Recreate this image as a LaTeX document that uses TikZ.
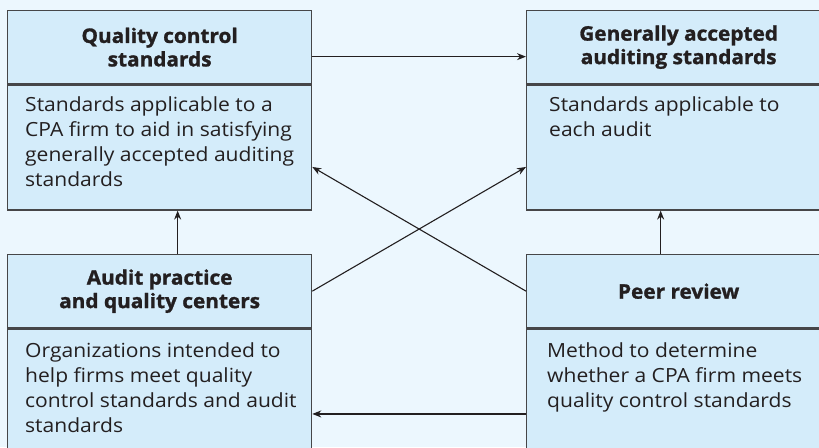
\documentclass[tikz,border=0pt]{standalone}
\usepackage{fontspec}
\setmainfont{Open Sans}[FakeStretch=1.08]
\newfontfamily\hdrfont{Open Sans}[FakeStretch=1.04, BoldFeatures={FakeBold=1.3}]
\usetikzlibrary{arrows.meta,calc}
\definecolor{bg}{RGB}{236,247,254}
\definecolor{boxfill}{RGB}{212,236,250}
\definecolor{edge}{RGB}{70,70,72}
\definecolor{ink}{RGB}{35,31,32}
\begin{document}
\begin{tikzpicture}[x=1pt,y=-1pt,
 hdr/.style={draw=edge, fill=boxfill, line width=1.3pt, minimum width=304pt, minimum height=73pt, anchor=north west, inner sep=0pt, font=\hdrfont\bfseries\fontsize{20}{23.5}\selectfont, text=ink, align=center},
 body/.style={draw=edge, fill=boxfill, line width=1.3pt, minimum width=304pt, minimum height=125pt, anchor=north west, inner sep=0pt},
 bodytext/.style={anchor=north west, font=\fontsize{19.5}{25}\selectfont, text=ink, align=left, inner sep=0pt},
 conn/.style={draw=ink, line width=1.1pt, -{Stealth[length=9pt,width=7pt]}}]
\useasboundingbox (0,0) rectangle (819,447);
\clip (0,0) rectangle (819,447);
\fill[bg] (0,0) rectangle (819,447);
\node[hdr] (qcH) at (7,10) {Quality control\\standards};
\node[body] (qcB) at (qcH.south west) {};
\node[hdr] (gaH) at (526,10) {Generally accepted\\auditing standards};
\node[body] (gaB) at (gaH.south west) {};
\node[hdr] (apH) at (7,254) {Audit practice\\and quality centers};
\node[body] (apB) at (apH.south west) {};
\node[hdr] (prH) at (526,254) {Peer review};
\node[body] (prB) at (prH.south west) {};
\node[bodytext] (qcT) at (25,96) {Standards applicable to a\\CPA firm to aid in satisfying\\generally accepted auditing\\standards};
\node[bodytext] (gaT) at (549,96) {Standards applicable to\\each audit};
\node[bodytext] (apT) at (25,342) {Organizations intended to\\help firms meet quality\\control standards and audit\\standards};
\node[bodytext] (prT) at (547,342) {Method to determine\\whether a CPA firm meets\\quality control standards};
\draw[conn] ([yshift=-9.5pt]qcH.east) -- ([yshift=-9.5pt]gaH.west);
\draw[conn] ([xshift=18pt]apH.north) -- ([xshift=18pt]qcB.south);
\draw[conn] ([xshift=-18pt]prH.north) -- ([xshift=-18pt]gaB.south);
\draw[conn] ([yshift=-22.5pt]prB.west) -- ([yshift=-22.5pt]apB.east);
\draw[conn] (apH.east) -- ([yshift=-19.5pt]gaB.west);
\draw[conn] (prH.west) -- ([yshift=-19.5pt]qcB.east);
\end{tikzpicture}
\end{document}
